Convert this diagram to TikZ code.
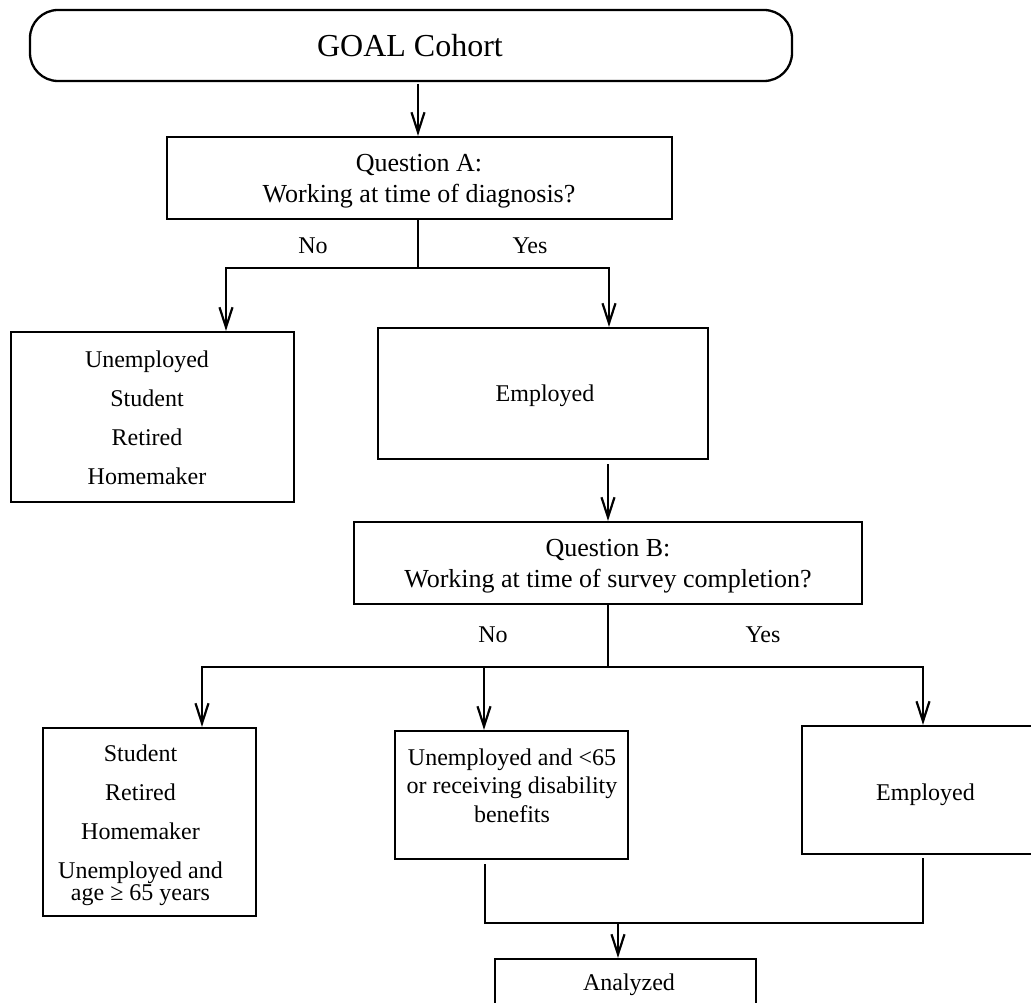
\documentclass[tikz,border=0pt]{standalone}
\usepackage{fontspec}
\setmainfont{Liberation Serif}
\usetikzlibrary{arrows.meta,calc}
\begin{document}
\begin{tikzpicture}[x=1pt,y=-1pt,
  box/.style={draw, line width=2.3pt, rectangle, inner sep=0pt},
  txt/.style={inner sep=0pt, font=\fontsize{24}{29}\selectfont},
  ltxt/.style={txt, anchor=base},
  mtxt/.style={txt, anchor=north, align=center},
  conn/.style={line width=2.2pt},
  arr/.style={conn, -{Straight Barb[length=20pt,width=13pt]}}]
\useasboundingbox (0,0) rectangle (1031,1003);
\fill[white] (0,0) rectangle (1031,1003);
\clip (0,0) rectangle (1031,1003);

% boxes
\node[box, rounded corners=28pt, minimum width=762pt, minimum height=71pt] (goal) at (411,45.5) {};
\node[box, minimum width=505pt, minimum height=82pt] (qa) at (419.5,178) {};
\node[box, minimum width=283pt, minimum height=170pt] (unemp) at (152.5,417) {};
\node[box, minimum width=330pt, minimum height=131pt] (emp1) at (543,393.5) {};
\node[box, minimum width=508pt, minimum height=82pt] (qb) at (608,563) {};
\node[box, minimum width=213pt, minimum height=188pt] (bl) at (149.5,822) {};
\node[box, minimum width=233pt, minimum height=128pt] (mid) at (511.5,795) {};
\node[box, minimum width=247pt, minimum height=128pt] (right) at (925.5,790) {};
\node[box, minimum width=261pt, minimum height=50pt] (an) at (625.5,984) {};

% texts
\node[ltxt, font=\fontsize{32}{38}\selectfont] (goalT) at (410,56.7) {GOAL Cohort};
\node[mtxt, font=\fontsize{26}{31}\selectfont] (qaT) at (419,154.2) {Question A:\\Working at time of diagnosis?};
\node[mtxt, font=\fontsize{24}{39}\selectfont] (unempT) at (147,350.6) {Unemployed\\Student\\Retired\\Homemaker};
\node[ltxt] (emp1T) at (545,401.7) {Employed};
\node[mtxt, font=\fontsize{26}{31}\selectfont] (qbT) at (608,538.7) {Question B:\\Working at time of survey completion?};
\node[mtxt, font=\fontsize{24}{39}\selectfont] (blT) at (140.5,744.6) {Student\\Retired\\Homemaker\\Unemployed and\\[-17pt]age ≥ 65 years};
\node[mtxt, font=\fontsize{24}{28.5}\selectfont] (midT) at (512,748.6) {Unemployed and <65\\or receiving disability\\benefits};
\node[ltxt] (rightT) at (925.5,800) {Employed};
\node[ltxt] (anT) at (629,990) {Analyzed};

\node[ltxt] (noA) at (313,254) {No};
\node[ltxt] (yesA) at (530,254) {Yes};
\node[ltxt] (noB) at (493,642) {No};
\node[ltxt] (yesB) at (763,642) {Yes};

% junction coordinates
\coordinate (jA) at (418,268);
\coordinate (aNo) at (226,268);
\coordinate (aYes) at (609,268);
\coordinate (jB) at (608,667);
\coordinate (bNo) at (202,667);
\coordinate (bMid) at (484,667);
\coordinate (bYes) at (923,667);
\coordinate (cMid) at (485,923);
\coordinate (cYes) at (923,923);
\coordinate (cAn) at (618,923);
\coordinate (gA) at (418,84);

% connectors
\draw[arr] (gA) -- (gA |- qa.north);
\draw[conn] (jA |- qa.south) -- (jA);
\draw[arr] (jA) -| (aNo |- unemp.north);
\draw[arr] (jA) -| (aYes |- emp1.north);
\draw[arr, shorten <=4pt] (emp1.south -| qb.north) -- (qb.north);
\draw[conn] (qb.south) -- (jB);
\draw[arr] (jB) -| (bNo |- bl.north);
\draw[arr] (jB) -| (bYes |- right.north);
\draw[arr] (bMid) -- (bMid |- mid.north);
\draw[conn, shorten <=4pt, shorten >=3pt] (cMid |- mid.south) -- (cMid) -- (cYes) -- (cYes |- right.south);
\draw[arr] (cAn) -- (cAn |- an.north);
\end{tikzpicture}
\end{document}
